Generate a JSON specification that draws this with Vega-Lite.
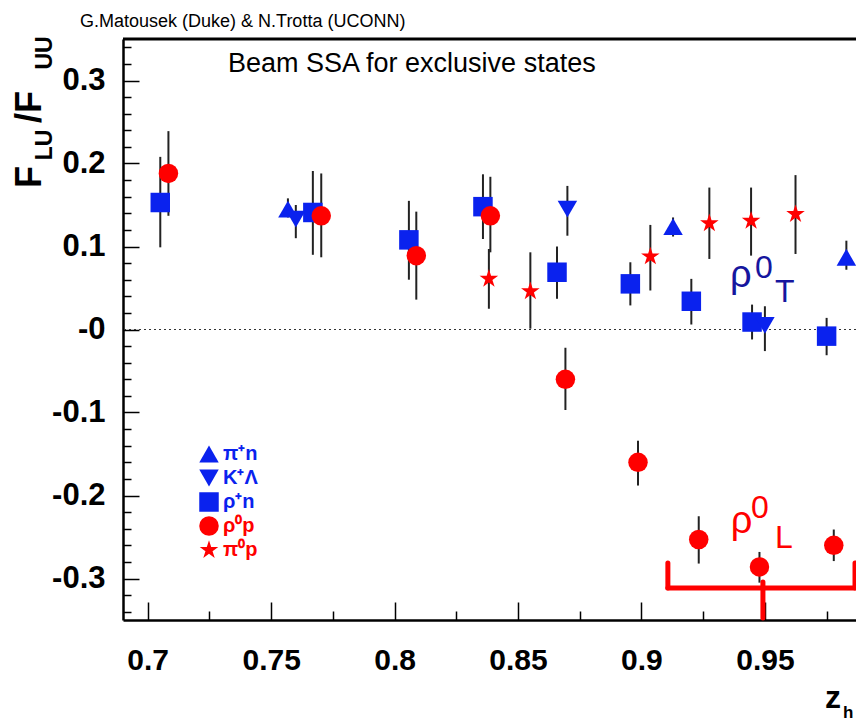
{
  "$schema": "https://vega.github.io/schema/vega-lite/v6.json",
  "width": 733,
  "height": 581,
  "autosize": {"type": "none"},
  "padding": {"left": 123, "top": 39, "right": 0, "bottom": 104},
  "background": "white",
  "config": {"view": {"stroke": null}, "font": "Liberation Sans"},
  "datasets": {
    "points": [
      {"s": "ρ⁺n", "x": 0.7051, "y": 0.153, "lo": 0.099, "hi": 0.208},
      {"s": "ρ⁺n", "x": 0.7669, "y": 0.141, "lo": 0.090, "hi": 0.191},
      {"s": "ρ⁺n", "x": 0.8058, "y": 0.108, "lo": 0.060, "hi": 0.155},
      {"s": "ρ⁺n", "x": 0.8358, "y": 0.148, "lo": 0.109, "hi": 0.187},
      {"s": "ρ⁺n", "x": 0.8658, "y": 0.069, "lo": 0.037, "hi": 0.100},
      {"s": "ρ⁺n", "x": 0.8955, "y": 0.055, "lo": 0.029, "hi": 0.081},
      {"s": "ρ⁺n", "x": 0.9202, "y": 0.034, "lo": 0.006, "hi": 0.061},
      {"s": "ρ⁺n", "x": 0.9448, "y": 0.009, "lo": -0.012, "hi": 0.030},
      {"s": "ρ⁺n", "x": 0.9750, "y": -0.008, "lo": -0.031, "hi": 0.014},
      {"s": "ρ⁰p", "x": 0.7084, "y": 0.188, "lo": 0.137, "hi": 0.239},
      {"s": "ρ⁰p", "x": 0.7703, "y": 0.137, "lo": 0.087, "hi": 0.188},
      {"s": "ρ⁰p", "x": 0.8088, "y": 0.089, "lo": 0.036, "hi": 0.142},
      {"s": "ρ⁰p", "x": 0.8388, "y": 0.137, "lo": 0.093, "hi": 0.184},
      {"s": "ρ⁰p", "x": 0.8692, "y": -0.060, "lo": -0.097, "hi": -0.022},
      {"s": "ρ⁰p", "x": 0.8986, "y": -0.160, "lo": -0.188, "hi": -0.134},
      {"s": "ρ⁰p", "x": 0.9232, "y": -0.253, "lo": -0.282, "hi": -0.225},
      {"s": "ρ⁰p", "x": 0.9478, "y": -0.286, "lo": -0.305, "hi": -0.268},
      {"s": "ρ⁰p", "x": 0.9779, "y": -0.260, "lo": -0.279, "hi": -0.241},
      {"s": "π⁰p", "x": 0.8382, "y": 0.061, "lo": 0.025, "hi": 0.097},
      {"s": "π⁰p", "x": 0.8550, "y": 0.046, "lo": 0.001, "hi": 0.093},
      {"s": "π⁰p", "x": 0.9036, "y": 0.088, "lo": 0.047, "hi": 0.126},
      {"s": "π⁰p", "x": 0.9275, "y": 0.128, "lo": 0.085, "hi": 0.171},
      {"s": "π⁰p", "x": 0.9444, "y": 0.131, "lo": 0.089, "hi": 0.171},
      {"s": "π⁰p", "x": 0.9624, "y": 0.139, "lo": 0.091, "hi": 0.186},
      {"s": "π⁺n", "x": 0.7568, "y": 0.145, "lo": 0.135, "hi": 0.158},
      {"s": "π⁺n", "x": 0.9128, "y": 0.124, "lo": 0.112, "hi": 0.135},
      {"s": "π⁺n", "x": 0.9830, "y": 0.087, "lo": 0.072, "hi": 0.107},
      {"s": "K⁺Λ", "x": 0.7600, "y": 0.133, "lo": 0.110, "hi": 0.150},
      {"s": "K⁺Λ", "x": 0.8700, "y": 0.145, "lo": 0.113, "hi": 0.173},
      {"s": "K⁺Λ", "x": 0.9500, "y": 0.005, "lo": -0.026, "hi": 0.028}
    ]
  },
  "data": {"name": "points"},
  "layer": [
    {
      "data": {"values": [{}]},
      "mark": {"type": "rule", "color": "#333333", "strokeWidth": 1.2, "strokeDash": [2, 3]},
      "encoding": {"y": {"datum": 0}}
    },
    {
      "data": {"values": [{}]},
      "mark": {"type": "rule", "color": "black", "strokeWidth": 3},
      "encoding": {"y": {"datum": 0.35}}
    },
    {
      "mark": {"type": "rule", "color": "#222222", "strokeWidth": 2},
      "encoding": {
        "x": {"field": "x", "type": "quantitative"},
        "y": {"field": "lo", "type": "quantitative"},
        "y2": {"field": "hi"}
      }
    },
    {
      "mark": {"type": "point", "filled": true, "opacity": 1, "strokeWidth": 0},
      "encoding": {
        "x": {
          "field": "x",
          "type": "quantitative",
          "scale": {"domain": [0.69, 0.9869], "nice": false, "zero": false},
          "axis": {
            "title": null,
            "values": [0.7, 0.725, 0.75, 0.775, 0.8, 0.825, 0.85, 0.875, 0.9, 0.925, 0.95, 0.975],
            "tickCount": 100,
            "labelExpr": "abs(datum.value*20 - round(datum.value*20)) < 0.001 ? format(datum.value, '~g') : ''",
            "tickSize": {"condition": {"test": "abs(datum.value*20 - round(datum.value*20)) < 0.001", "value": -18}, "value": -9},
            "tickColor": "black",
            "tickWidth": 1.5,
            "domainColor": "black",
            "domainWidth": 2.5,
            "grid": false,
            "labelFont": "Liberation Sans",
            "labelFontWeight": "bold",
            "labelFontSize": 30,
            "labelColor": "black",
            "labelPadding": 43,
            "labelFlush": false,
            "labelOverlap": false,
            "labelBound": false
          }
        },
        "y": {
          "field": "y",
          "type": "quantitative",
          "scale": {"domain": [-0.35, 0.35], "nice": false, "zero": false},
          "axis": {
            "title": null,
            "values": [-0.34, -0.32, -0.3, -0.28, -0.26, -0.24, -0.22, -0.2, -0.18, -0.16, -0.14, -0.12, -0.1, -0.08, -0.06, -0.04, -0.02, 0, 0.02, 0.04, 0.06, 0.08, 0.1, 0.12, 0.14, 0.16, 0.18, 0.2, 0.22, 0.24, 0.26, 0.28, 0.3, 0.32, 0.34],
            "tickCount": 100,
            "labelExpr": "abs(datum.value*10 - round(datum.value*10)) < 0.001 ? (datum.value < -0.001 ? '-' + format(abs(datum.value), '.1f') : (abs(datum.value) < 0.001 ? '-0' : format(datum.value, '.1f'))) : ''",
            "tickSize": {"condition": {"test": "abs(datum.value*10 - round(datum.value*10)) < 0.001", "value": -16}, "value": -8},
            "tickColor": "black",
            "tickWidth": 1.5,
            "domainColor": "black",
            "domainWidth": 2.5,
            "grid": false,
            "labelFont": "Liberation Sans",
            "labelFontWeight": "bold",
            "labelFontSize": 31,
            "labelColor": "black",
            "labelPadding": 34,
            "labelFlush": false,
            "labelOverlap": false,
            "labelBound": false
          }
        },
        "color": {
          "field": "s",
          "type": "nominal",
          "scale": {
            "domain": ["π⁺n", "K⁺Λ", "ρ⁺n", "ρ⁰p", "π⁰p"],
            "range": ["#0a22ee", "#0a22ee", "#0a22ee", "#ff0000", "#ff0000"]
          },
          "legend": {
            "title": null,
            "orient": "none",
            "legendX": 76,
            "legendY": 405,
            "padding": 0,
            "symbolSize": 330,
            "symbolStrokeWidth": 0,
            "symbolOpacity": 1,
            "labelFont": "Liberation Sans",
            "labelFontWeight": "bold",
            "labelFontSize": 20,
            "labelOffset": 4,
            "rowPadding": 4,
            "encode": {
              "labels": {"update": {"fill": {"signal": "test(/p$/, datum.label) ? '#ff0000' : '#0a22ee'"}}}
            }
          }
        },
        "shape": {
          "field": "s",
          "type": "nominal",
          "scale": {
            "domain": ["π⁺n", "K⁺Λ", "ρ⁺n", "ρ⁰p", "π⁰p"],
            "range": ["triangle-up", "triangle-down", "square", "circle", "M0,-1L0.2245,-0.309L0.9511,-0.309L0.3633,0.118L0.5878,0.809L0,0.382L-0.5878,0.809L-0.3633,0.118L-0.9511,-0.309L-0.2245,-0.309Z"]
          }
        },
        "size": {
          "field": "s",
          "type": "nominal",
          "scale": {
            "domain": ["π⁺n", "K⁺Λ", "ρ⁺n", "ρ⁰p", "π⁰p"],
            "range": [380, 380, 260, 260, 220]
          },
          "legend": null
        }
      }
    },
    {
      "data": {"values": [{}]},
      "mark": {"type": "text", "text": "G.Matousek (Duke) & N.Trotta (UCONN)", "align": "left", "baseline": "alphabetic", "fontSize": 18, "font": "Liberation Sans", "color": "black"},
      "encoding": {"x": {"datum": 0.67258}, "y": {"datum": 0.36446}}
    },
    {
      "data": {"values": [{}]},
      "mark": {"type": "text", "text": "Beam SSA for exclusive states", "align": "left", "baseline": "alphabetic", "fontSize": 27, "font": "Liberation Sans", "color": "black"},
      "encoding": {"x": {"datum": 0.73253}, "y": {"datum": 0.31024}}
    },
    {
      "data": {"values": [{}]},
      "mark": {"type": "text", "text": "F", "angle": 270, "align": "center", "baseline": "middle", "fontSize": 36, "fontWeight": "bold", "font": "Liberation Sans", "color": "black"},
      "encoding": {"x": {"datum": 0.65233}, "y": {"datum": 0.18373}}
    },
    {
      "data": {"values": [{}]},
      "mark": {"type": "text", "text": "LU", "angle": 270, "align": "center", "baseline": "middle", "fontSize": 23, "fontWeight": "bold", "font": "Liberation Sans", "color": "black"},
      "encoding": {"x": {"datum": 0.65841}, "y": {"datum": 0.22229}}
    },
    {
      "data": {"values": [{}]},
      "mark": {"type": "text", "text": "/F", "angle": 270, "align": "center", "baseline": "middle", "fontSize": 36, "fontWeight": "bold", "font": "Liberation Sans", "color": "black"},
      "encoding": {"x": {"datum": 0.65233}, "y": {"datum": 0.26807}}
    },
    {
      "data": {"values": [{}]},
      "mark": {"type": "text", "text": "UU", "angle": 270, "align": "center", "baseline": "middle", "fontSize": 23, "fontWeight": "bold", "font": "Liberation Sans", "color": "black"},
      "encoding": {"x": {"datum": 0.65841}, "y": {"datum": 0.33313}}
    },
    {
      "data": {"values": [{}]},
      "mark": {"type": "text", "text": "z", "align": "left", "baseline": "alphabetic", "fontSize": 32, "fontWeight": "bold", "font": "Liberation Sans", "color": "black"},
      "encoding": {"x": {"datum": 0.97432}, "y": {"datum": -0.456}}
    },
    {
      "data": {"values": [{}]},
      "mark": {"type": "text", "text": "h", "align": "left", "baseline": "alphabetic", "fontSize": 17, "fontWeight": "bold", "font": "Liberation Sans", "color": "black"},
      "encoding": {"x": {"datum": 0.98161}, "y": {"datum": -0.4681}}
    },
    {
      "data": {"values": [{}]},
      "mark": {"type": "text", "text": "ρ", "align": "left", "baseline": "alphabetic", "fontSize": 38, "font": "Liberation Sans", "color": "#16169e"},
      "encoding": {"x": {"datum": 0.93585}, "y": {"datum": 0.0512}}
    },
    {
      "data": {"values": [{}]},
      "mark": {"type": "text", "text": "0", "align": "left", "baseline": "alphabetic", "fontSize": 32, "font": "Liberation Sans", "color": "#16169e"},
      "encoding": {"x": {"datum": 0.94598}, "y": {"datum": 0.06205}}
    },
    {
      "data": {"values": [{}]},
      "mark": {"type": "text", "text": "T", "align": "left", "baseline": "alphabetic", "fontSize": 32, "font": "Liberation Sans", "color": "#16169e"},
      "encoding": {"x": {"datum": 0.95408}, "y": {"datum": 0.03313}}
    },
    {
      "data": {"values": [{}]},
      "mark": {"type": "text", "text": "ρ", "align": "left", "baseline": "alphabetic", "fontSize": 38, "font": "Liberation Sans", "color": "#ff0000"},
      "encoding": {"x": {"datum": 0.93612}, "y": {"datum": -0.24518}}
    },
    {
      "data": {"values": [{}]},
      "mark": {"type": "text", "text": "0", "align": "left", "baseline": "alphabetic", "fontSize": 32, "font": "Liberation Sans", "color": "#ff0000"},
      "encoding": {"x": {"datum": 0.94435}, "y": {"datum": -0.22711}}
    },
    {
      "data": {"values": [{}]},
      "mark": {"type": "text", "text": "L", "align": "left", "baseline": "alphabetic", "fontSize": 32, "font": "Liberation Sans", "color": "#ff0000"},
      "encoding": {"x": {"datum": 0.95408}, "y": {"datum": -0.26325}}
    },
    {
      "data": {"values": [{}]},
      "mark": {"type": "rule", "color": "#ff0000", "strokeWidth": 5, "strokeCap": "round"},
      "encoding": {"x": {"datum": 0.9107}, "x2": {"datum": 0.9865}, "y": {"datum": -0.3114}}
    },
    {
      "data": {"values": [{}]},
      "mark": {"type": "rule", "color": "#ff0000", "strokeWidth": 5, "strokeCap": "round"},
      "encoding": {"x": {"datum": 0.9107}, "y": {"datum": -0.2813}, "y2": {"datum": -0.3114}}
    },
    {
      "data": {"values": [{}]},
      "mark": {"type": "rule", "color": "#ff0000", "strokeWidth": 5, "strokeCap": "round"},
      "encoding": {"x": {"datum": 0.9865}, "y": {"datum": -0.2813}, "y2": {"datum": -0.3114}}
    },
    {
      "data": {"values": [{}]},
      "mark": {"type": "rule", "color": "#ff0000", "strokeWidth": 5, "strokeCap": "round"},
      "encoding": {"x": {"datum": 0.9492}, "y": {"datum": -0.3042}, "y2": {"datum": -0.3476}}
    }
  ]
}
